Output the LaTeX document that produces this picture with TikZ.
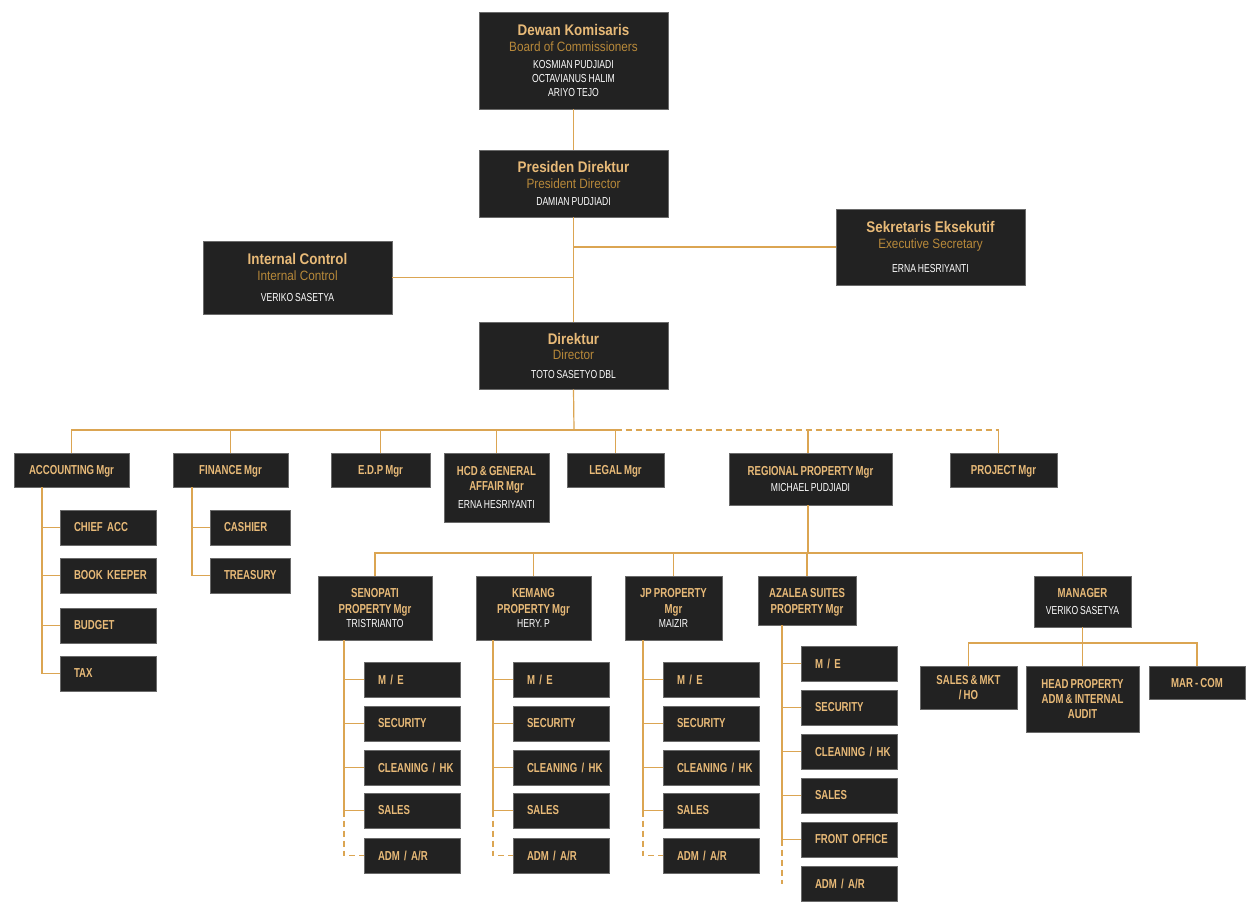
\documentclass[tikz,border=0pt]{standalone}
\usepackage{fontspec}
\newfontfamily\ocfT[FakeStretch=0.87]{Liberation Sans}
\newfontfamily\ocfC[FakeStretch=0.74, WordSpace=0.8]{Liberation Sans}
\definecolor{tgold}{HTML}{E8BA78}
\definecolor{sgold}{HTML}{B8893A}
\definecolor{boxfill}{HTML}{222222}
\definecolor{boxedge}{HTML}{6A6A6A}
\definecolor{linec}{HTML}{DBA552}
\newcommand\ocTitle[1]{{\ocfT\bfseries\fontsize{15.4}{14}\selectfont\color{tgold}#1}}
\newcommand\ocSub[1]{{\ocfT\fontsize{13.5}{14}\selectfont\color{sgold}#1}}
\newcommand\ocName[1]{{\ocfC\fontsize{11.6}{14}\selectfont\color{white}#1}}
\newcommand\ocLab[1]{{\ocfC\bfseries\fontsize{13}{14}\selectfont\color{tgold}#1}}
\tikzset{
  box/.style={draw=boxedge, fill=boxfill, line width=0.8pt, inner sep=0pt, align=center,
    text depth=0pt, font=\fontsize{13}{14}\selectfont},
  leafbox/.style={draw=boxedge, fill=boxfill, line width=0.8pt, inner xsep=0pt, inner ysep=0pt,
    align=left, minimum height=35pt, font=\fontsize{13}{14}\selectfont},
  conn/.style={draw=linec, line width=1.2pt},
  dconn/.style={draw=linec, line width=1.2pt, dash pattern=on 6pt off 4pt}
}
\newcommand\ocbox[6]{\node[box, minimum width={(#4-#2)*1pt}, minimum height={(#5-#3)*1pt}] (#1) at ({(#2+#4)/2},{(#3+#5)/2}) {#6};}
\newcommand\ocleaf[5]{\node[leafbox, text width=#4pt] (#1) at ({#2+#4/2},{#3+17.5}) {\hspace*{14pt}\ocLab{#5}};}
\begin{document}
\begin{tikzpicture}[x=1pt,y=-1pt]
\fill[white] (0,0) rectangle (1259,914);
\useasboundingbox (0,0) rectangle (1259,914);
% top levels
\ocbox{dewan}{479}{12}{668}{109}{\ocTitle{Dewan Komisaris}\\[1.7pt]\ocSub{Board of Commissioners}\\[3.6pt]\ocName{KOSMIAN PUDJIADI}\\\ocName{OCTAVIANUS HALIM}\\\ocName{ARIYO TEJO}}
\ocbox{pres}{479}{150}{668}{217}{\ocTitle{Presiden Direktur}\\[1.7pt]\ocSub{President Director}\\[3.6pt]\ocName{DAMIAN PUDJIADI}}
\ocbox{sek}{836}{209}{1025}{285}{\ocTitle{Sekretaris Eksekutif}\\[1.7pt]\ocSub{Executive Secretary}\\[10.4pt]\ocName{ERNA HESRIYANTI}}
\ocbox{ic}{203}{241}{392}{314}{\ocTitle{Internal Control}\\[1.7pt]\ocSub{Internal Control}\\[7.4pt]\ocName{VERIKO SASETYA}}
\ocbox{dir}{479}{322}{668}{389}{\ocTitle{Direktur}\\[1.7pt]\ocSub{Director}\\[4.4pt]\ocName{TOTO SASETYO DBL}}
% managers row
\ocbox{acc}{14}{453}{129}{487}{\ocLab{ACCOUNTING Mgr}}
\ocbox{fin}{173}{453}{288}{487}{\ocLab{FINANCE Mgr}}
\ocbox{edp}{331}{453}{430}{487}{\ocLab{E.D.P Mgr}}
\ocbox{hcd}{444}{453}{549}{522}{\ocLab{HCD \& GENERAL}\\[1pt]\ocLab{AFFAIR Mgr}\\[3.8pt]\ocName{ERNA HESRIYANTI}}
\ocbox{legal}{567}{453}{664}{487}{\ocLab{LEGAL Mgr}}
\ocbox{reg}{729}{453}{892}{505}{\ocLab{REGIONAL PROPERTY Mgr}\\[2.8pt]\ocName{MICHAEL PUDJIADI}}
\ocbox{proj}{950}{453}{1057}{487}{\ocLab{PROJECT Mgr}}
% accounting / finance leaves
\ocleaf{chief}{60}{510}{96}{CHIEF ACC}
\ocleaf{book}{60}{558}{96}{BOOK KEEPER}
\ocleaf{budget}{60}{608}{96}{BUDGET}
\ocleaf{tax}{60}{656}{96}{TAX}
\ocleaf{cashier}{210}{510}{80}{CASHIER}
\ocleaf{treasury}{210}{558}{80}{TREASURY}
% property row
\ocbox{seno}{318}{576}{432}{640}{\ocLab{SENOPATI}\\[2pt]\ocLab{PROPERTY Mgr}\\[0.8pt]\ocName{TRISTRIANTO}}
\ocbox{kem}{476}{576}{591}{640}{\ocLab{KEMANG}\\[2pt]\ocLab{PROPERTY Mgr}\\[0.8pt]\ocName{HERY. P}}
\ocbox{jp}{625}{576}{722}{640}{\ocLab{JP PROPERTY}\\[2pt]\ocLab{Mgr}\\[0.8pt]\ocName{MAIZIR}}
\ocbox{aza}{758}{576}{856}{625}{\ocLab{AZALEA SUITES}\\[2pt]\ocLab{PROPERTY Mgr}}
\ocbox{mgr}{1034}{576}{1131}{627}{\ocLab{MANAGER}\\[2.8pt]\ocName{VERIKO SASETYA}}
% manager children
\ocbox{smkt}{920}{666}{1017}{709}{\ocLab{SALES \& MKT}\\[1pt]\ocLab{/ HO}}
\ocbox{headp}{1026}{666}{1139}{732}{\ocLab{HEAD PROPERTY}\\[1pt]\ocLab{ADM \& INTERNAL}\\[1pt]\ocLab{AUDIT}}
\ocbox{marcom}{1149}{666}{1245}{699}{\ocLab{MAR - COM}}
% property leaves
\foreach \p/\x in {s/364, k/513, j/663}{
  \ocleaf{\p me}{\x}{662}{96}{M / E}
  \ocleaf{\p se}{\x}{706}{96}{SECURITY}
  \ocleaf{\p cl}{\x}{750}{96}{CLEANING / HK}
  \ocleaf{\p sa}{\x}{793}{96}{SALES}
  \ocleaf{\p ad}{\x}{838}{96}{ADM / A/R}
  \coordinate (\p top) at (\x-20,640);
  \draw[conn] (\p top) |- (\p sa.west);
  \foreach \c in {me,se,cl}{\draw[conn] (\p\c.west) -- (\p\c.west -| \p top);}
  \draw[dconn] (\p sa.west -| \p top) |- (\p ad.west);
}
\ocleaf{ame}{801}{646}{96}{M / E}
\ocleaf{ase}{801}{690}{96}{SECURITY}
\ocleaf{acl}{801}{734}{96}{CLEANING / HK}
\ocleaf{asa}{801}{778}{96}{SALES}
\ocleaf{afo}{801}{822}{96}{FRONT OFFICE}
\ocleaf{aad}{801}{866}{96}{ADM / A/R}
% connectors: top
\draw[conn] (dewan.south) -- (pres.north);
\draw[conn] (pres.south) -- (dir.north);
\draw[conn] (sek.west) -- (sek.west -| pres.south);
\draw[conn] (ic.east) -- (ic.east -| pres.south);
% managers bus
\coordinate (topbus) at (574,430);
\coordinate (projin) at ([xshift=-5pt]proj.north);
\coordinate (regin) at ([xshift=-2.5pt]reg.north);
\draw[conn] (dir.south) -- (topbus);
\draw[conn] (acc.north) |- (legal.north |- topbus);
\foreach \n in {fin,edp,hcd,legal}{\draw[conn] (\n.north) -- (\n.north |- topbus);}
\draw[dconn] (legal.north |- topbus) -- (projin |- topbus);
\draw[conn] (regin) -- (regin |- topbus);
\draw[conn] (projin) -- (projin |- topbus);
% accounting / finance
\coordinate (acctop) at (42,487);
\draw[conn] (acctop) |- (tax.west);
\foreach \c in {chief,book,budget}{\draw[conn] (\c.west) -- (\c.west -| acctop);}
\coordinate (fintop) at (192,487);
\draw[conn] (fintop) |- (treasury.west);
\draw[conn] (cashier.west) -- (cashier.west -| fintop);
% regional bus
\coordinate (regbus) at (808,553);
\coordinate (regout) at ([xshift=-2.5pt]reg.south);
\draw[conn] (regout) -- (regout |- regbus);
\draw[conn] (seno.north) |- (mgr.north |- regbus) -- (mgr.north);
\foreach \n in {kem,jp,aza}{\draw[conn] (\n.north) -- (\n.north |- regbus);}
% azalea
\coordinate (atop) at (782,625);
\coordinate (aend) at (782,884);
\draw[conn] (atop) |- (afo.west);
\foreach \c in {ame,ase,acl,asa}{\draw[conn] (\c.west) -- (\c.west -| atop);}
\draw[dconn] (afo.west -| atop) -- (aend);
% manager children
\coordinate (mbus) at (1082,643);
\draw[conn] (mgr.south) -- (headp.north);
\draw[conn] (smkt.north) |- (mbus) -| (marcom.north);
\end{tikzpicture}
\end{document}
